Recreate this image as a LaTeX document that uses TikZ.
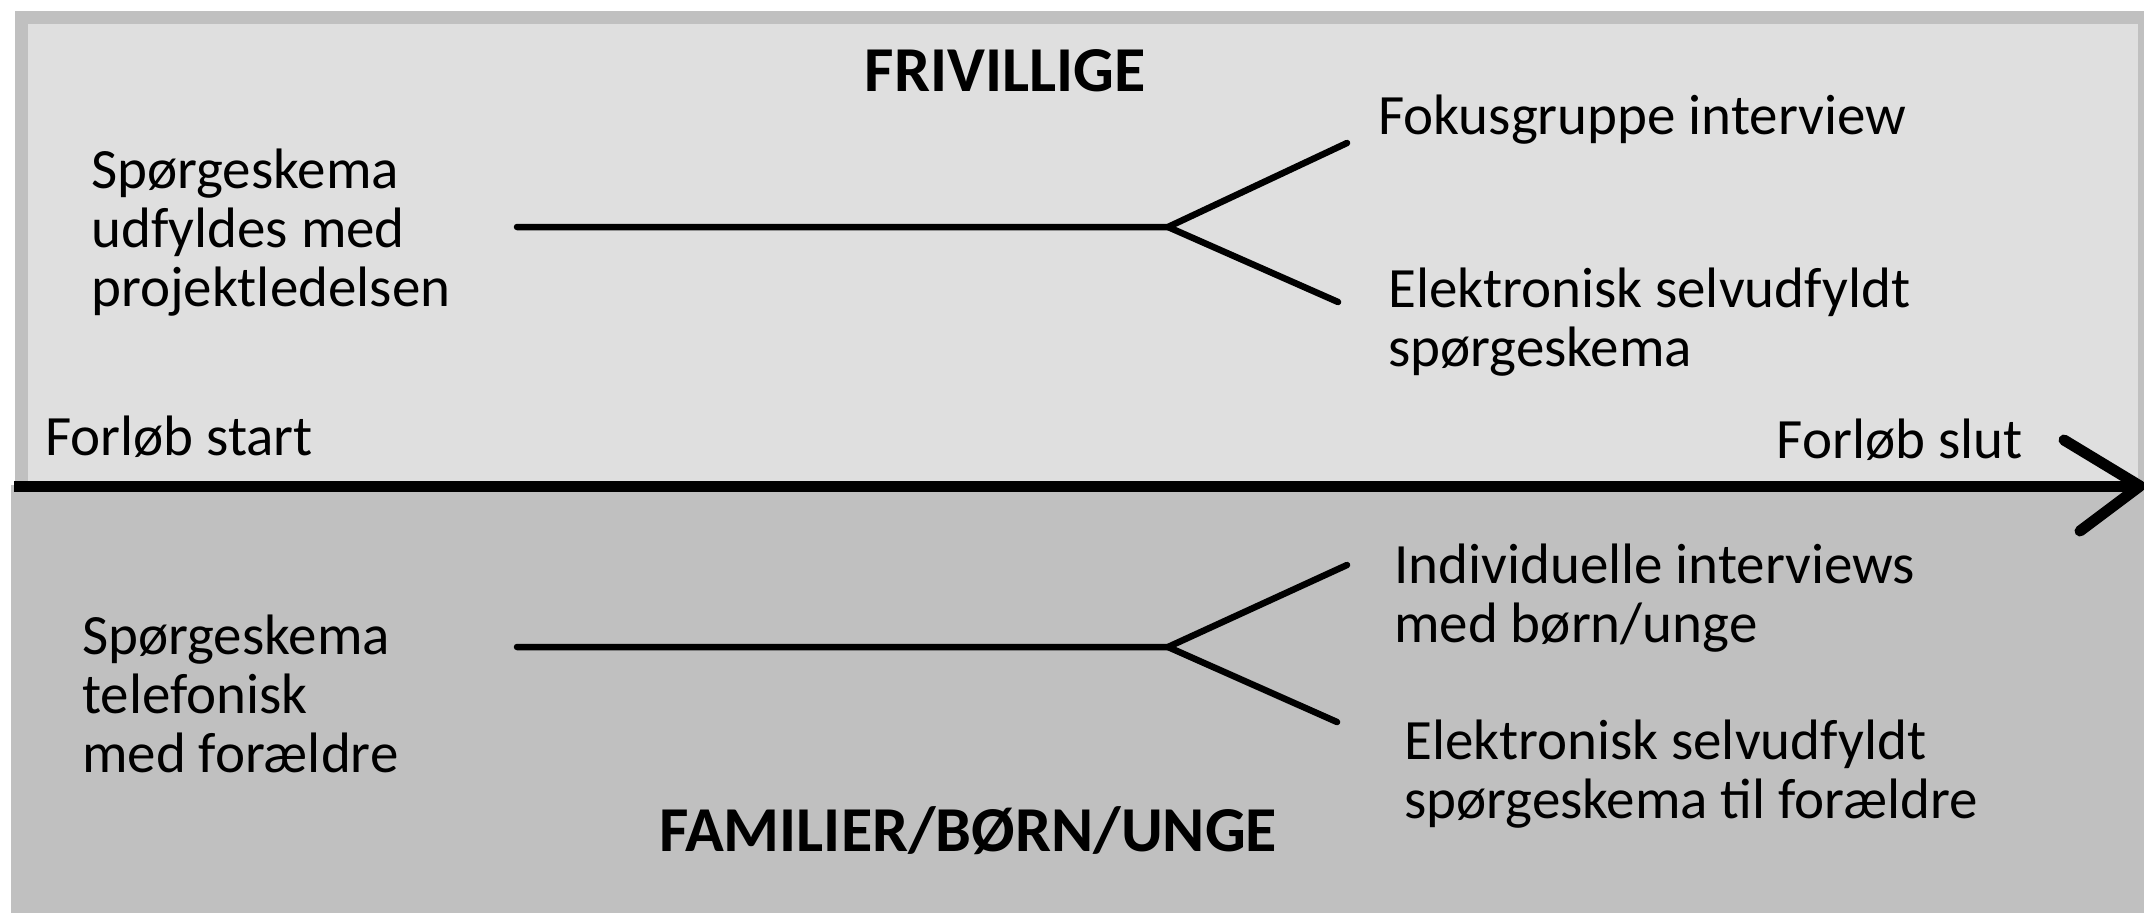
\documentclass[tikz,border=0pt]{standalone}
\usepackage{fontspec}
\setmainfont{Carlito}
\definecolor{toppanel}{HTML}{DFDFDF}
\definecolor{panelborder}{HTML}{C0C0C0}
\definecolor{botpanel}{HTML}{C0C0C0}
\begin{document}
\begin{tikzpicture}[x=1pt,y=-1pt,
  txt/.style={inner sep=0pt, align=left, font=\fontsize{57}{59}\selectfont},
  ttl/.style={inner sep=0pt, font=\fontsize{64}{66}\selectfont\bfseries},
  branch/.style={line width=6.5pt, line cap=round, line join=round},
  axis/.style={line width=11pt, line cap=round, line join=round}]
\useasboundingbox (0,0) rectangle (2144,913);
\fill[white] (0,0) rectangle (2144,913);
% panels
\fill[panelborder] (15,11) rectangle (2160,491);
\fill[toppanel] (28,24) rectangle (2138,491);
\fill[botpanel] (11,485) rectangle (2144,913);
% texts top
\node[ttl] (frv) at (1005,71) {FRIVILLIGE};
\node[txt, anchor=west] (q1) at (91,233) {Spørgeskema\\udfyldes med\\projektledelsen};
\node[txt, anchor=west] (fg) at (1378,120) {Fokusgruppe interview};
\node[txt, anchor=west] (el1) at (1388,322) {Elektronisk selvudfyldt\\spørgeskema};
\node[txt, anchor=west] (fs) at (45,437) {Forløb start};
\node[txt, anchor=east] (fe) at (2023,440) {Forløb slut};
% texts bottom
\node[txt, anchor=west] (q2) at (82,694) {Spørgeskema\\telefonisk\\med forældre};
\node[txt, anchor=west] (ind) at (1394,598) {Individuelle interviews\\med børn/unge};
\node[txt, anchor=west] (el2) at (1404,774) {Elektronisk selvudfyldt\\spørgeskema til forældre};
\node[ttl] (fam) at (968,831) {FAMILIER/BØRN/UNGE};
% branches
\coordinate (a1) at (517,227);
\coordinate (j1) at (1168,227);
\coordinate (u1) at (1347,143);
\coordinate (d1) at (1338,302);
\draw[branch] (a1) -- (j1) -- (u1);
\draw[branch] (j1) -- (d1);
\coordinate (a2) at (517,647);
\coordinate (j2) at (1168,647);
\coordinate (u2) at (1347,565);
\coordinate (d2) at (1337,722);
\draw[branch] (a2) -- (j2) -- (u2);
\draw[branch] (j2) -- (d2);
% axis
\coordinate (s) at (14,486);
\coordinate (t) at (2140,486);
\coordinate (h1) at (2064,440);
\coordinate (h2) at (2080,531);
\draw[axis, line cap=butt] (s) -- (t);
\draw[axis] (h1) -- (t) -- (h2);
\end{tikzpicture}
\end{document}
